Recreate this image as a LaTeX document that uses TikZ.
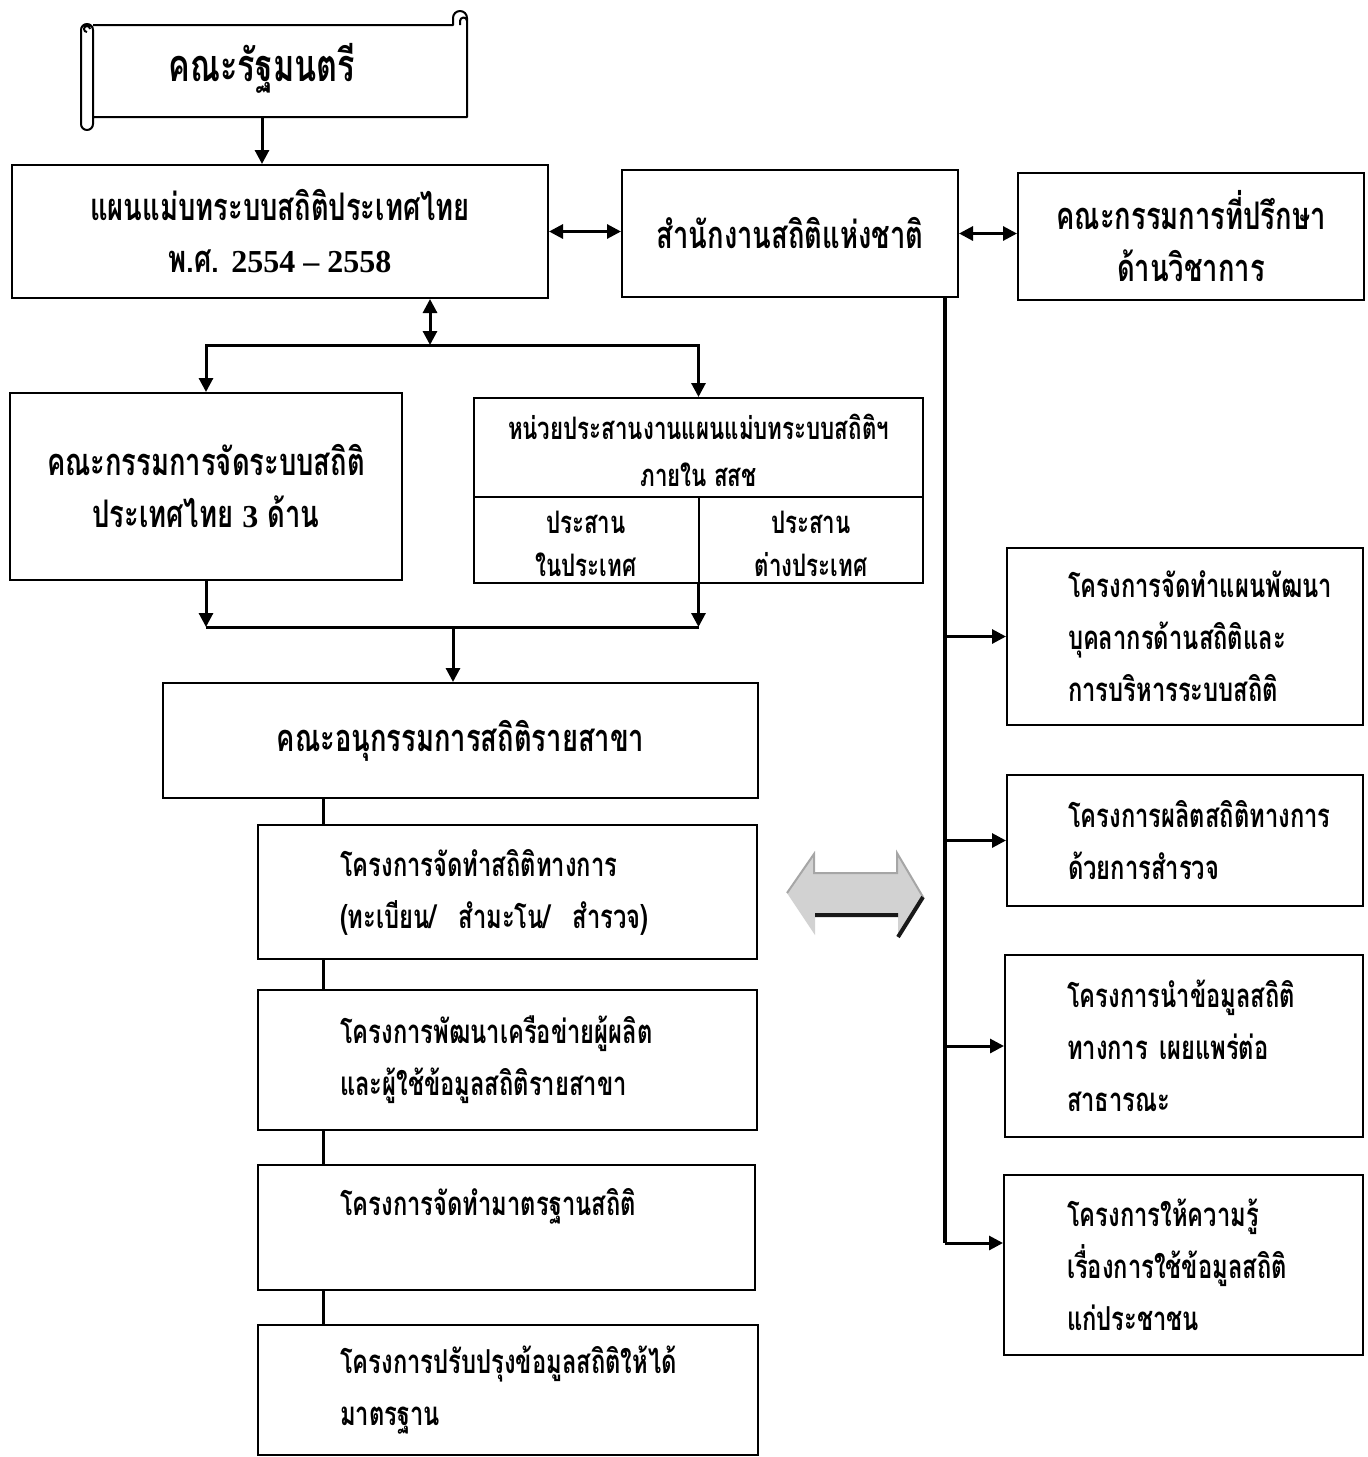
\documentclass[tikz,border=0pt]{standalone}
\usepackage{fontspec}
\usepackage{tikz}
\usetikzlibrary{calc}
\usetikzlibrary{arrows.meta}
\newfontfamily\thaifont[Script=Thai,FakeStretch=0.72]{Loma}
\newfontfamily\numfont{Liberation Serif}

\tikzset{
  box/.style={draw, line width=1pt, inner sep=0pt, align=center,
              font=\thaifont\bfseries\fontsize{19}{26}\selectfont},
  projbox/.style={box, align=left, font=\thaifont\bfseries\fontsize{16.5}{26}\selectfont},
  link/.style={line width=1.5pt},
  arr/.style={link, -{Triangle[length=7pt,width=7pt]}},
  darr/.style={link, {Triangle[length=7pt,width=7pt]}-{Triangle[length=7pt,width=7pt]}},
}

\begin{document}
\begin{tikzpicture}[x=0.5pt,y=-0.5pt]
\useasboundingbox (0,0) rectangle (1367,1457);

% scroll
\node[inner sep=0pt, minimum width=186pt, minimum height=46pt,
      font=\thaifont\bfseries\fontsize{22.5}{26}\selectfont] (cabinet) at (262,68) {คณะรัฐมนตรี};
\draw[line width=1pt, line join=round]
  (93,25) -- (453,25) -- (453,18) arc[start angle=180, end angle=0, radius=3.5pt]
  -- (467,117) -- (93,117)
  (460,25) -- (460,21) arc[start angle=180, end angle=0, radius=1.75pt] -- (467,23)
  (93,30) -- (93,124)
  (81,30) -- (81,124) arc[start angle=180, end angle=360, radius=3pt]
  (81,30) arc[start angle=180, end angle=0, radius=3pt]
  (87,32) arc[start angle=270, end angle=0, radius=1.5pt];

\node[box, minimum width=268pt, minimum height=66.5pt] (plan) at (280,231.5)
  {แผนแม่บทระบบสถิติประเทศไทย\\พ.ศ. {\numfont\bfseries\fontsize{16}{26}\selectfont 2554 – 2558}};
\node[box, minimum width=168pt, minimum height=63.5pt] (nso) at (790,233.5)
  {สำนักงานสถิติแห่งชาติ};
\node[box, minimum width=173pt, minimum height=63.5pt] (advisor) at (1191,236.5)
  {คณะกรรมการที่ปรึกษา\\ด้านวิชาการ};

\node[box, minimum width=196pt, minimum height=93.5pt] (committee) at (206,486.5)
  {คณะกรรมการจัดระบบสถิติ\\ประเทศไทย {\numfont\bfseries\fontsize{16}{26}\selectfont 3} ด้าน};

\node[box, minimum width=224.5pt, minimum height=92.5pt] (coord) at (698.5,490.5) {};
\draw[line width=1pt] (474,497) -- (923,497) (699,497) -- (699,583);
\node[align=center, font=\thaifont\bfseries\fontsize{15.5}{23.5}\selectfont] (coordhead) at (698.5,450.5)
  {หน่วยประสานงานแผนแม่บทระบบสถิติฯ\\ภายใน สสช};
\node[align=center, font=\thaifont\bfseries\fontsize{15.5}{21.5}\selectfont] (domestic) at (586,543.5)
  {ประสาน\\ในประเทศ};
\node[align=center, font=\thaifont\bfseries\fontsize{15.5}{21.5}\selectfont] (abroad) at (811,543.5)
  {ประสาน\\ต่างประเทศ};

\node[box, minimum width=297.5pt, minimum height=57.5pt] (sub) at (460.5,740.5)
  {คณะอนุกรรมการสถิติรายสาขา};

\node[projbox, minimum width=249.5pt, minimum height=67pt, inner xsep=41pt, text width=167.5pt] (proj1) at (507.5,892)
  {โครงการจัดทำสถิติทางการ\\(ทะเบียน/~~สำมะโน/~~สำรวจ)};
\node[projbox, minimum width=249.5pt, minimum height=70pt, inner xsep=41pt, text width=167.5pt] (proj2) at (507.5,1060)
  {โครงการพัฒนาเครือข่ายผู้ผลิต\\และผู้ใช้ข้อมูลสถิติรายสาขา};
\node[projbox, minimum width=248.5pt, minimum height=62.5pt, inner xsep=41pt, text width=166.5pt] (proj3) at (506.5,1227.5)
  {โครงการจัดทำมาตรฐานสถิติ\\~};
\node[projbox, minimum width=250pt, minimum height=65pt, inner xsep=41pt, text width=168pt] (proj4) at (508,1390)
  {โครงการปรับปรุงข้อมูลสถิติให้ได้\\มาตรฐาน};

\node[projbox, minimum width=178pt, minimum height=88.5pt, inner xsep=30.5pt, text width=117pt] (plan1) at (1185,636.5)
  {โครงการจัดทำแผนพัฒนา\\บุคลากรด้านสถิติและ\\การบริหารระบบสถิติ};
\node[projbox, minimum width=178pt, minimum height=65.5pt, inner xsep=30.5pt, text width=117pt] (plan2) at (1185,840.5)
  {โครงการผลิตสถิติทางการ\\ด้วยการสำรวจ};
\node[projbox, minimum width=179pt, minimum height=91pt, inner xsep=31pt, text width=117pt] (plan3) at (1184,1046)
  {โครงการนำข้อมูลสถิติ\\ทางการ~เผยแพร่ต่อ\\สาธารณะ};
\node[projbox, minimum width=179.5pt, minimum height=90pt, inner xsep=31.5pt, text width=116.5pt] (plan4) at (1183.5,1265)
  {โครงการให้ความรู้\\เรื่องการใช้ข้อมูลสถิติ\\แก่ประชาชน};

% connectors
\draw[arr] (cabinet.south |- 0,118) -- (cabinet.south |- plan.north);
\draw[darr] (plan.east) -- (plan.east -| nso.west);
\draw[darr] (nso.east) -- (nso.east -| advisor.west);

\coordinate (split) at (430,345);
\draw[darr] (plan.south -| split) -- (split);
\draw[arr] (split) -| (committee.north);
\draw[arr] (split) -| (coord.north);

\coordinate (join) at (453,627);
\draw[arr] (committee.south) -- (committee.south |- join);
\draw[arr] (coord.south) -- (coord.south |- join);
\draw[link] (committee.south |- join) -- (coord.south |- join);
\draw[arr] (join) -- (join |- sub.north);

\coordinate (spine) at (323,0);
\draw[link] (sub.south -| spine) -- (proj1.north -| spine);
\draw[link] (proj1.south -| spine) -- (proj2.north -| spine);
\draw[link] (proj2.south -| spine) -- (proj3.north -| spine);
\draw[link] (proj3.south -| spine) -- (proj4.north -| spine);

\coordinate (trunk) at (945,1243);
\draw[link, line width=2pt] (nso.south -| trunk) -- (trunk);
\draw[arr] (trunk |- plan1.west) -- (plan1.west);
\draw[arr] (trunk |- plan2.west) -- (plan2.west);
\draw[arr] (trunk |- plan3.west) -- (plan3.west);
\draw[arr] (trunk) -- (trunk -| plan4.west);

% grey arrow
\fill[gray!35] (787,893) -- (814,854) -- (814,873) -- (897,873) -- (897,853)
  -- (923,897) -- (898,937) -- (898,915) -- (815,915) -- (815,935) -- cycle;
\draw[gray!70, line width=1pt] (787,893) -- (814,854) -- (814,873) -- (897,873) -- (897,853) -- (923,897);
\draw[gray!20!black, line width=2pt] (815,915) -- (898,915) (923,897) -- (898,937);

\end{tikzpicture}
\end{document}
